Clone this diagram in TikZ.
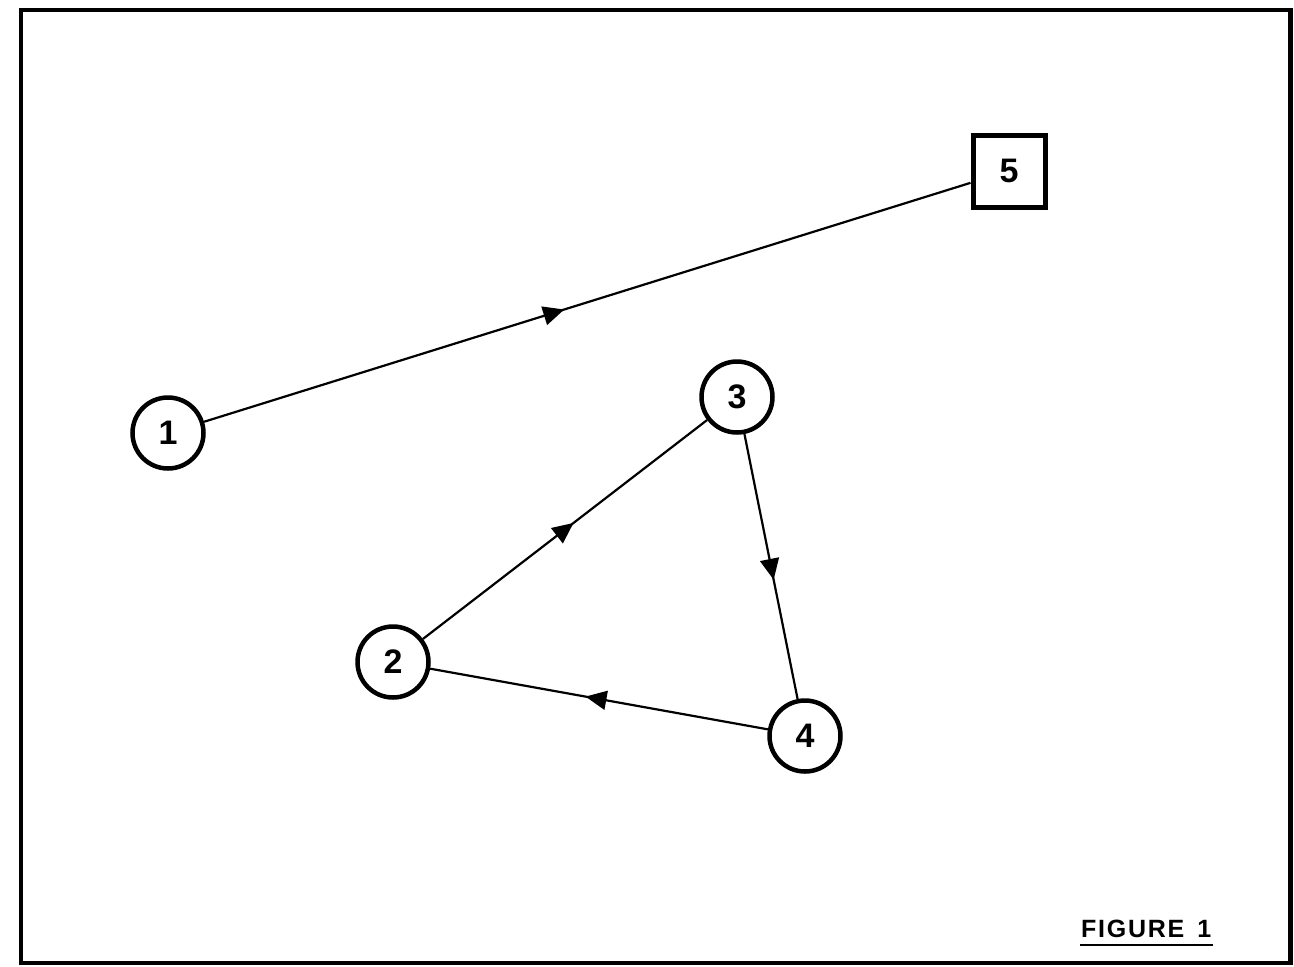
\documentclass[tikz,border=0pt]{standalone}
\usepackage{fontspec}
\newfontfamily\lblfont{Liberation Sans}
\usetikzlibrary{arrows.meta,decorations.markings}
\tikzset{
  vert/.style={circle, draw, line width=4.5pt, minimum size=71pt, inner sep=0pt, font=\lblfont\bfseries\fontsize{34}{34}\selectfont},
  sinkbox/.style={rectangle, draw, line width=5pt, minimum size=72pt, inner sep=0pt, font=\lblfont\bfseries\fontsize{34}{34}\selectfont},
  edge/.style={line width=2.2pt},
  midarrow/.style={postaction={decorate}, decoration={markings, mark=at position #1 with {\arrow{Triangle[length=21pt,width=19pt]}}}}
}
\begin{document}
\begin{tikzpicture}[x=1pt,y=-1pt]
\useasboundingbox (0,0) rectangle (1294,967);
\draw[line width=4.5pt] (21,10) rectangle (1290.5,963);
\node[vert] (n1) at (168,433) {1};
\node[vert] (n2) at (393,662) {2};
\node[vert] (n3) at (737,397) {3};
\node[vert] (n4) at (805,736) {4};
\node[sinkbox] (n5) at (1009,171) {5};
\draw[edge, midarrow=0.47] (n1) -- (n5);
\draw[edge, midarrow=0.53] (n2) -- (n3);
\draw[edge, midarrow=0.55] (n3) -- (n4);
\draw[edge, midarrow=0.54] (n4) -- (n2);
\node[anchor=base west, inner sep=0pt, font=\lblfont\bfseries\fontsize{25}{25}\selectfont] (fig) at (1081,937) {\addfontfeature{LetterSpace=7}FIGURE\hspace{13pt}1};
\draw[line width=2.5pt] (1080,945) -- (1213,945);
\end{tikzpicture}
\end{document}
